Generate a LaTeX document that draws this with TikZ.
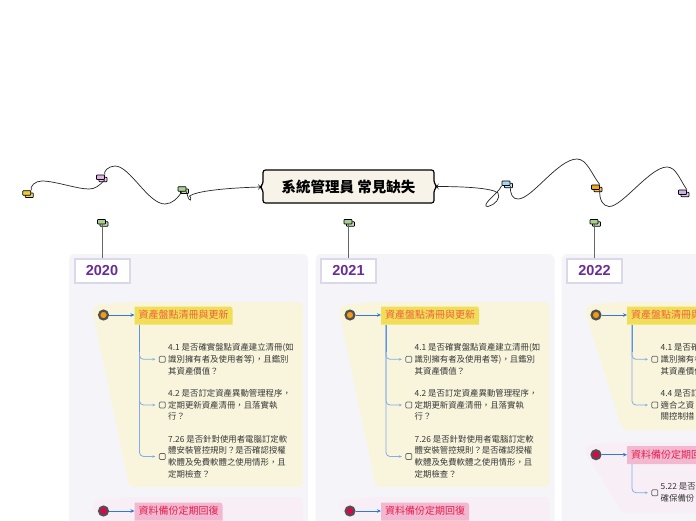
\documentclass[tikz,border=0pt]{standalone}
\usepackage{fontspec}
\setmainfont{Noto Sans CJK TC}
\newfontfamily\yearfont{Liberation Sans}
\usetikzlibrary{arrows.meta}
\definecolor{panelbg}{HTML}{F5F5F9}
\definecolor{yellowbg}{HTML}{F8F5DC}
\definecolor{pinkbg}{HTML}{F8EEF6}
\definecolor{yellowlab}{HTML}{F0DE58}
\definecolor{pinklab}{HTML}{F2B8D0}
\definecolor{orangetxt}{HTML}{F0603C}
\definecolor{pinktxt}{HTML}{E6204F}
\definecolor{dotorange}{HTML}{F39C12}
\definecolor{dotpink}{HTML}{E6004C}
\definecolor{yearpurple}{HTML}{6A2C9A}
\definecolor{yearframe}{HTML}{D9D9E9}
\definecolor{arrowblue}{HTML}{2E78E0}
\definecolor{branchblue}{HTML}{7FAEE8}
\definecolor{dotgrey}{HTML}{505050}
\definecolor{centralfill}{HTML}{F8F3E8}
\definecolor{icongreen}{HTML}{A8D090}
\definecolor{iconpink}{HTML}{E8B0E8}
\definecolor{iconyellow}{HTML}{EBCB3C}
\definecolor{iconblue}{HTML}{A8D8F0}
\definecolor{iconorange}{HTML}{F0A810}
\definecolor{iconpurple}{HTML}{D0B0E8}
\tikzset{
  x=1pt,y=-1pt,
  iconrect/.style={draw=black,line width=0.7pt,rounded corners=0.6pt,minimum width=8pt,minimum height=4.5pt,inner sep=0pt},
  yearbox/.style={draw=yearframe,line width=2pt,fill=white,minimum width=55pt,minimum height=24.5pt,inner sep=0pt,text=yearpurple,font=\yearfont\bfseries\fontsize{14.5}{14.5}\selectfont},
  toplabel/.style={anchor=west,inner sep=0pt,font=\fontsize{10}{10}\selectfont,align=left},
  itemtext/.style={anchor=west,inner sep=0pt,align=left,text=black!78,font=\fontsize{8.4}{11.7}\selectfont},
  checkbox/.style={draw=black!60,line width=0.7pt,rounded corners=1pt,minimum size=6pt,inner sep=0pt},
  dotnode/.style={circle,draw=dotgrey,line width=2.2pt,minimum size=8.8pt,inner sep=0pt},
  tiparrow/.style={-{Stealth[length=4pt,width=3.5pt]},line width=1pt,draw=arrowblue,fill=arrowblue},
  branchline/.style={-{Stealth[length=3pt,width=2.5pt]},line width=0.8pt,branchblue,rounded corners=4pt,shorten >=3.5pt},
  curveline/.style={line width=0.7pt,black!85},
  stemline/.style={line width=1pt,black!60},
}
% icon: name, x, y (top left), colour
\newcommand{\mapicon}[4]{%
  \node[iconrect,fill=#4!70!white] at (#2+6.5,#3+4.5) {};
  \node[iconrect,fill=#4] (#1) at (#2+4,#3+2.2) {};
}
% yearblock: prefix, dx, year
\newcommand{\yearblock}[3]{%
  \fill[panelbg,rounded corners=6pt] (#2+69,254) rectangle (#2+308,540);
  \mapicon{#1i}{#2+97.5}{219.5}{icongreen}
  \node[yearbox] (#1y) at (#2+102,271) {#3};
  \draw[stemline] (#1i.south -| #1y.north) -- (#1y.north);
}
% head: prefix, x-shift, y of dot, inner dot colour, label fill, text colour, text, label width
\newcommand{\headrow}[8]{%
  \fill[#5] (#2+134.5,#3-8.5) -- (#2+131.5+#8,#3-8.5) .. controls (#2+133.5+#8,#3-8.5) and (#2+134.5+#8,#3-7.5) .. (#2+134.5+#8,#3-5.5) -- (#2+134.5+#8,#3+9.5) -- (#2+134.5,#3+9.5) -- cycle;
  \node[dotnode,fill=#4] (#1d) at (#2+103.5,#3) {};
  \node[toplabel,text=#6,text width=#8pt-4pt] (#1l) at (#2+138.5,#3) {#7};
  \draw[tiparrow] (#1d.east) -- (#2+134.5,#3);
}
% item: prefix, dx, y, text
\newcommand{\itemrow}[4]{%
  \node[checkbox] (#1c) at (#2+162.3,#3) {};
  \node[itemtext] (#1t) at (#2+168,#3) {#4};
}
\newcommand{\yellowshape}[3]{%
  \fill[yellowbg] (#1+93,313) .. controls (#1+92,307) and (#1+96,304) .. (#1+104,304)
    .. controls (#1+115,303) and (#1+125,302) .. (#1+140,302) -- (#1+298,302)
    .. controls (#1+301,302) and (#1+303,304) .. (#1+303,307) -- (#1+303,#2-4)
    .. controls (#1+303,#2-1) and (#1+301,#2) .. (#1+298,#2) -- (#1+#3+7,#2)
    .. controls (#1+#3+3,#2) and (#1+#3+1,#2-2) .. (#1+#3,#2-6) -- cycle;
}
\newcommand{\pinkshape}[4]{%
  \fill[pinkbg] (#1+93,#2+11) .. controls (#1+92,#2+5) and (#1+96,#2+2) .. (#1+104,#2+2)
    .. controls (#1+115,#2+1) and (#1+125,#2) .. (#1+140,#2) -- (#1+298,#2)
    .. controls (#1+301,#2) and (#1+303,#2+2) .. (#1+303,#2+5) -- (#1+303,#3-4)
    .. controls (#1+303,#3-1) and (#1+301,#3) .. (#1+298,#3) -- (#1+#4+7,#3)
    .. controls (#1+#4+3,#3) and (#1+#4+1,#3-2) .. (#1+#4,#3-6) -- cycle;
}
\newcommand{\fullblock}[3]{%
  \yearblock{#1}{#2}{#3}
  \yellowshape{#2}{487}{128}
  \pinkshape{#2}{497}{560}{128}
  \headrow{#1a}{#2}{315}{dotorange}{yellowlab}{orangetxt}{資產盤點清冊與更新}{98}
  \headrow{#1b}{#2}{511}{dotpink}{pinklab}{pinktxt}{資料備份定期回復}{88}
  \itemrow{#1x}{#2}{359.3}{4.1 是否確實盤點資產建立清冊(如\\識別擁有者及使用者等)，且鑑別\\其資產價值？}
  \itemrow{#1y2}{#2}{405}{4.2 是否訂定資產異動管理程序，\\定期更新資產清冊，且落實執\\行？}
  \itemrow{#1z}{#2}{456.5}{7.26 是否針對使用者電腦訂定軟\\體安裝管控規則？是否確認授權\\軟體及免費軟體之使用情形，且\\定期檢查？}
  \draw[branchline] (#2+139.5,325) |- (#1xc.west);
  \draw[branchline] (#2+139.5,325) |- (#1y2c.west);
  \draw[branchline] (#2+139.5,325) |- (#1zc.west);
  \draw[line width=0.8pt,arrowblue!80!white] (#2+139.5,325) -- (#2+139.5,352);
}
\begin{document}
\begin{tikzpicture}
\useasboundingbox (0,0) rectangle (696,520);
\clip (0,0) rectangle (696,520);
\fill[white] (0,0) rectangle (696,520);

\fullblock{p}{0}{2020}
\fullblock{q}{246.5}{2021}

% third column
\yearblock{r}{492.5}{2022}
\yellowshape{492.5}{430}{128}
\pinkshape{492.5}{442}{512.5}{126}
\headrow{ra}{492.5}{315}{dotorange}{yellowlab}{orangetxt}{資產盤點清冊與更新}{98}
\headrow{rb}{492.5}{454.7}{dotpink}{pinklab}{pinktxt}{資料備份定期回復}{88}
\itemrow{rx}{492.5}{359.3}{4.1 是否確實盤點資產建立清冊(如\\識別擁有者及使用者等)，且鑑別\\其資產價值？}
\itemrow{ry2}{492.5}{405}{4.4 是否訂\\適合之資\\關控制措}
\itemrow{rz}{492.5}{492.7}{5.22 是否\\確保備份}
\draw[branchline] (632,325) |- (rxc.west);
\draw[branchline] (632,325) |- (ry2c.west);
\draw[branchline] (632,464) |- (rzc.west);
\draw[line width=0.8pt,arrowblue!80!white] (632,325) -- (632,352);

% central topic
\draw[fill=centralfill,draw=black,line width=1.2pt,rounded corners=2.5pt]
  (263,170) -- (263,184) -- (260,187) -- (263,190) -- (263,203)
  -- (434,203) -- (434,190) -- (437,186.5) -- (434,183) -- (434,170) -- cycle;
\node[inner sep=0pt,font=\bfseries\fontsize{14.5}{14.5}\selectfont] (central) at (348.5,186.5) {系統管理員 常見缺失};
\coordinate (cl) at (260,187);
\coordinate (cr) at (437,186.5);

% floating icons
\mapicon{ia}{178}{186.7}{icongreen}
\mapicon{ib}{96.5}{175}{iconpink}
\mapicon{ic}{22.8}{190.7}{iconyellow}
\mapicon{id}{502}{181}{iconblue}
\mapicon{ie}{591.5}{185}{iconorange}
\mapicon{if}{678.5}{190}{iconpurple}

% left chain
\draw[curveline] (cl) .. controls (225,188) and (197,191) .. (189.5,196)
  .. controls (190,197) and (192,198) .. (190.5,200)
  .. controls (188.5,200) and (188,197) .. (ia.south east);
\draw[curveline] (ia.south) .. controls (178,198) and (172,204) .. (165,204)
  .. controls (148,204) and (130,166) .. (115,166)
  .. controls (108,166) and (103,172) .. (ib.north east);
\draw[curveline] (ib.south east) .. controls (99,186) and (95,189) .. (89,189)
  .. controls (77,189) and (55,181) .. (42,181)
  .. controls (35,181) and (30,186) .. (ic.north east);

% right chain
\draw[curveline] (cr) .. controls (465,186.5) and (492,188) .. (498,193)
  .. controls (501,198) and (495,205) .. (488,206.5)
  .. controls (484,207) and (486,203) .. (490,199)
  .. controls (494,195) and (499,191) .. (id.south west);
\draw[curveline] (id.south east) .. controls (510,195) and (513,199) .. (518,199)
  .. controls (532,199) and (558,159) .. (577,159)
  .. controls (587,159) and (592,175) .. (ie.north east);
\draw[curveline] (ie.south east) .. controls (599,200) and (603,206) .. (609,206.5)
  .. controls (622,207) and (650,167) .. (667,167)
  .. controls (676,167) and (680,180) .. (if.north east);
\end{tikzpicture}
\end{document}
